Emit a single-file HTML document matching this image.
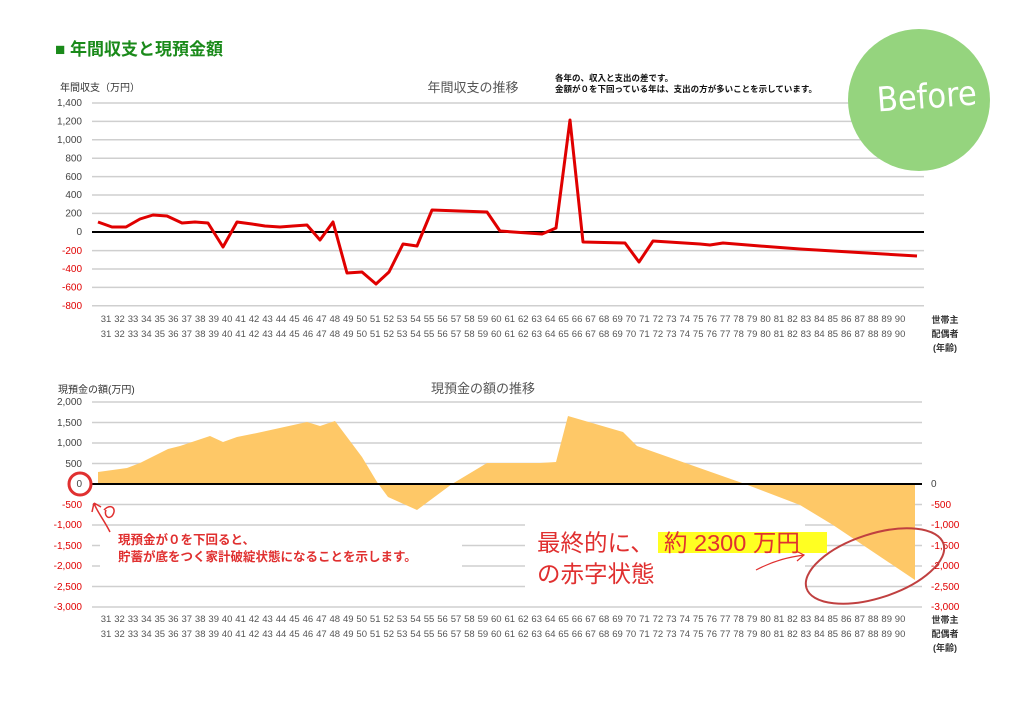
<!DOCTYPE html>
<html><head><meta charset="utf-8"><style>
html,body{margin:0;padding:0;background:#fff;}
svg{display:block;font-family:"Liberation Sans","Noto Sans CJK JP",sans-serif;}
</style></head><body>
<svg width="1024" height="726" viewBox="0 0 1024 726" xmlns="http://www.w3.org/2000/svg">
<rect width="1024" height="726" fill="#fff"/>
<text x="55" y="55" font-size="17" font-weight="bold" fill="#1a8a1a">■ 年間収支と現預金額</text>

<!-- TOP CHART -->
<g stroke="#cfcfcf" stroke-width="1.5">
<line x1="92" x2="924" y1="103" y2="103"/><line x1="92" x2="924" y1="121.4" y2="121.4"/>
<line x1="92" x2="924" y1="139.8" y2="139.8"/><line x1="92" x2="924" y1="158.2" y2="158.2"/>
<line x1="92" x2="924" y1="176.6" y2="176.6"/><line x1="92" x2="924" y1="195" y2="195"/>
<line x1="92" x2="924" y1="213.4" y2="213.4"/><line x1="92" x2="924" y1="250.6" y2="250.6"/>
<line x1="92" x2="924" y1="269" y2="269"/><line x1="92" x2="924" y1="287.4" y2="287.4"/>
<line x1="92" x2="924" y1="305.8" y2="305.8"/>
</g>
<line x1="92" x2="924" y1="232" y2="232" stroke="#000" stroke-width="2"/>
<g font-size="10" fill="#444" text-anchor="end">
<text x="82" y="106">1,400</text><text x="82" y="124.5">1,200</text><text x="82" y="143">1,000</text>
<text x="82" y="161.5">800</text><text x="82" y="180">600</text><text x="82" y="198">400</text>
<text x="82" y="216.5">200</text><text x="82" y="235">0</text>
</g>
<g font-size="10" fill="#e00000" text-anchor="end">
<text x="82" y="254">-200</text><text x="82" y="272">-400</text><text x="82" y="290.5">-600</text><text x="82" y="309">-800</text>
</g>
<text x="60" y="91" font-size="10" fill="#333">年間収支（万円）</text>
<text x="473" y="92" font-size="13" fill="#555" text-anchor="middle">年間収支の推移</text>
<text x="555" y="81" font-size="8.5" font-weight="bold" fill="#111">各年の、収入と支出の差です。</text>
<text x="555" y="92" font-size="8.5" font-weight="bold" fill="#111">金額が０を下回っている年は、支出の方が多いことを示しています。</text>

<polyline fill="none" stroke="#e00000" stroke-width="3" stroke-linejoin="round" points="98,222 112,227 126,227 140,219 153,215 167,216 182,223 195,222 208,223 223,247 237,222 252,224 265,226 280,227 293,226 307,225 320,240 333,222 347,273 362,272 376,284 389,272 403,244 417,246 432,210 487,212 500,231 542,234 556,228 570,120 583,242 625,243 639,262 653,241 700,244 710,245 723,243 760,246 800,249 850,252 917,256"/>

<!-- BOTTOM CHART -->
<g stroke="#cfcfcf" stroke-width="1.5">
<line x1="92" x2="922" y1="402" y2="402"/><line x1="92" x2="922" y1="422.5" y2="422.5"/>
<line x1="92" x2="922" y1="443" y2="443"/><line x1="92" x2="922" y1="463.5" y2="463.5"/>
<line x1="92" x2="922" y1="504.5" y2="504.5"/><line x1="92" x2="922" y1="525" y2="525"/>
<line x1="92" x2="922" y1="545.5" y2="545.5"/><line x1="92" x2="922" y1="566" y2="566"/>
<line x1="92" x2="922" y1="586.5" y2="586.5"/><line x1="92" x2="922" y1="607" y2="607"/>
</g>
<polygon fill="#fec867" points="98,484 98,472 127,468 140,463 168,449 180,446 210,436 223,442 237,437 257,433 307,422 320,426 335,421 362,457 377,482 388,497 417,510 452,484 487,463 540,463 556,462 568,416 623,432 637,446 745,484 800,505 833,525 915,580 915,484"/>
<line x1="92" x2="922" y1="484" y2="484" stroke="#000" stroke-width="2"/>
<rect x="100" y="526" width="362" height="44" fill="#fff"/>
<rect x="525" y="519" width="280" height="70" fill="#fff"/>
<g font-size="10" fill="#444" text-anchor="end">
<text x="82" y="405">2,000</text><text x="82" y="426">1,500</text><text x="82" y="446">1,000</text>
<text x="82" y="467">500</text><text x="82" y="487">0</text>
</g>
<g font-size="10" fill="#e00000" text-anchor="end">
<text x="82" y="508">-500</text><text x="82" y="528">-1,000</text><text x="82" y="549">-1,500</text>
<text x="82" y="569">-2,000</text><text x="82" y="590">-2,500</text><text x="82" y="610">-3,000</text>
</g>
<g font-size="10" fill="#444"><text x="931" y="487">0</text></g>
<g font-size="10" fill="#e00000">
<text x="931" y="508">-500</text><text x="931" y="528">-1,000</text><text x="931" y="549">-1,500</text>
<text x="931" y="569">-2,000</text><text x="931" y="590">-2,500</text><text x="931" y="610">-3,000</text>
</g>
<text x="58" y="393" font-size="10" fill="#333">現預金の額(万円)</text>
<text x="483" y="393" font-size="13" fill="#555" text-anchor="middle">現預金の額の推移</text>

<!-- annotations -->
<circle cx="80" cy="484" r="11" fill="none" stroke="#e03030" stroke-width="3"/>
<path d="M110,532 C104,520 96,510 94,503 M94,503 L92,512 M94,503 L101,507 M104,510 C110,503 118,508 112,516 C108,520 104,515 106,510" fill="none" stroke="#e03030" stroke-width="1.5"/>
<text x="118" y="544" font-size="12.5" font-weight="bold" fill="#e03030">現預金が０を下回ると、</text>
<text x="118" y="561" font-size="12.5" font-weight="bold" fill="#e03030">貯蓄が底をつく家計破綻状態になることを示します。</text>
<rect x="658" y="532" width="169" height="21" fill="#ffff22"/>
<text x="537" y="551" font-size="23.5" fill="#e03030">最終的に、</text>
<text x="664" y="551" font-size="23.5" fill="#e03030">約 2300 万円</text>
<text x="537" y="582" font-size="23.5" fill="#e03030">の赤字状態</text>
<path d="M756,570 C775,560 790,557 804,555 M796,551 L804,555 L797,561" fill="none" stroke="#e03030" stroke-width="1.2"/>
<ellipse cx="875" cy="566" rx="72" ry="32" transform="rotate(-18 875 566)" fill="none" stroke="#c04040" stroke-width="2"/>

<!-- x labels -->
<g font-size="9.5" fill="#555" text-anchor="middle" id="xl">
<text y="322"><tspan x="106">31</tspan><tspan x="119.5">32</tspan><tspan x="133">33</tspan><tspan x="146.4">34</tspan><tspan x="159.8">35</tspan><tspan x="173.3">36</tspan><tspan x="186.8">37</tspan><tspan x="200.2">38</tspan><tspan x="213.7">39</tspan><tspan x="227.1">40</tspan><tspan x="240.6">41</tspan><tspan x="254">42</tspan><tspan x="267.5">43</tspan><tspan x="281">44</tspan><tspan x="294.4">45</tspan><tspan x="307.9">46</tspan><tspan x="321.4">47</tspan><tspan x="334.8">48</tspan><tspan x="348.3">49</tspan><tspan x="361.7">50</tspan><tspan x="375.2">51</tspan><tspan x="388.7">52</tspan><tspan x="402.1">53</tspan><tspan x="415.6">54</tspan><tspan x="429">55</tspan><tspan x="442.5">56</tspan><tspan x="456">57</tspan><tspan x="469.4">58</tspan><tspan x="482.9">59</tspan><tspan x="496.3">60</tspan><tspan x="509.8">61</tspan><tspan x="523.3">62</tspan><tspan x="536.7">63</tspan><tspan x="550.2">64</tspan><tspan x="563.6">65</tspan><tspan x="577.1">66</tspan><tspan x="590.6">67</tspan><tspan x="604">68</tspan><tspan x="617.5">69</tspan><tspan x="630.9">70</tspan><tspan x="644.4">71</tspan><tspan x="657.9">72</tspan><tspan x="671.3">73</tspan><tspan x="684.8">74</tspan><tspan x="698.2">75</tspan><tspan x="711.7">76</tspan><tspan x="725.2">77</tspan><tspan x="738.6">78</tspan><tspan x="752.1">79</tspan><tspan x="765.5">80</tspan><tspan x="779">81</tspan><tspan x="792.5">82</tspan><tspan x="805.9">83</tspan><tspan x="819.4">84</tspan><tspan x="832.8">85</tspan><tspan x="846.3">86</tspan><tspan x="859.8">87</tspan><tspan x="873.2">88</tspan><tspan x="886.7">89</tspan><tspan x="900.1">90</tspan></text>
</g>
<use href="#xl" y="15"/>
<use href="#xl" y="300"/>
<use href="#xl" y="315"/>
<g font-size="9" fill="#333" text-anchor="middle" font-weight="bold">
<text x="945" y="323">世帯主</text><text x="945" y="337">配偶者</text><text x="945" y="351">(年齢)</text>
<text x="945" y="623">世帯主</text><text x="945" y="637">配偶者</text><text x="945" y="651">(年齢)</text>
</g>

<!-- Before badge -->
<circle cx="919" cy="100" r="71" fill="#95d47e"/>
<text x="927" y="108" font-size="34" fill="#fff" text-anchor="middle" font-family="'DejaVu Sans Condensed','Liberation Sans Narrow',sans-serif" font-weight="300" transform="rotate(-4 927 100)">Before</text>
</svg>
</body></html>
